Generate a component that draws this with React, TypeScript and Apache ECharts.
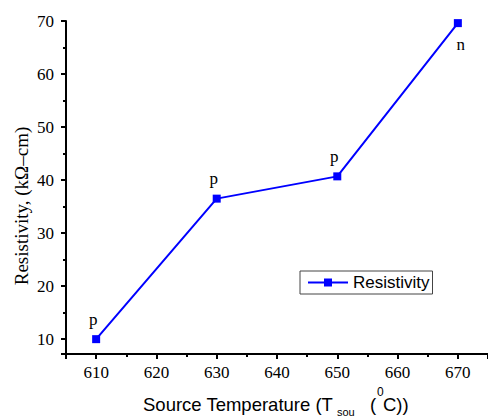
import React, { useEffect, useRef } from "react";
import * as echarts from "echarts";

const temperatures = [610, 630, 650, 670];
const resistivity = [10, 36.5, 40.7, 69.6];
const conductionType = ["p", "p", "p", "n"];
const xRange = [605, 675];
const yRange = [7.2, 70];

const SERIF = "serif";
const SANS = "Arial";

function buildOption() {
  const data = temperatures.map((t, i) => ({
    value: [t, resistivity[i]],
    label: {
      show: true,
      formatter: conductionType[i],
      position: "inside",
      offset: conductionType[i] === "n" ? [3, 21] : [-3, -20],
      fontFamily: SERIF,
      fontSize: 17,
      color: "#000",
    },
  }));
  const stroke = { color: "#000", width: 2 };
  return {
    animation: false,
    grid: { left: 66, right: 0, top: 21, bottom: 64 },
    xAxis: {
      type: "value",
      min: xRange[0],
      max: xRange[1],
      splitNumber: 7,
      axisLine: { show: true, onZero: false, lineStyle: stroke },
      axisTick: { show: true, length: 5, lineStyle: stroke },
      minorTick: { show: true, splitNumber: 2, length: 3, lineStyle: stroke },
      axisLabel: { showMinLabel: false, showMaxLabel: false, margin: 10, fontFamily: SERIF, fontSize: 17, color: "#000" },
      splitLine: { show: false },
      minorSplitLine: { show: false },
    },
    yAxis: {
      type: "value",
      min: yRange[0],
      max: yRange[1],
      axisLine: { show: true, onZero: false, lineStyle: stroke },
      axisTick: { show: true, length: 5, lineStyle: stroke },
      minorTick: { show: true, splitNumber: 2, length: 3, lineStyle: stroke },
      axisLabel: { showMinLabel: false, margin: 12, fontFamily: SERIF, fontSize: 17, color: "#000" },
      splitLine: { show: false },
      minorSplitLine: { show: false },
    },
    legend: {
      left: 300,
      top: 271,
      padding: [3, 3, 3, 7],
      itemWidth: 40,
      itemHeight: 10,
      borderColor: "#444",
      borderWidth: 1,
      borderRadius: 0,
      textStyle: { fontFamily: SANS, fontSize: 17, color: "#000" },
      data: ["Resistivity"],
    },
    series: [
      {
        name: "Resistivity",
        type: "line",
        data,
        symbol: "rect",
        symbolSize: 8,
        clip: false,
        lineStyle: { color: "#0000ff", width: 2 },
        itemStyle: { color: "#0000ff" },
        markLine: {
          silent: true,
          symbol: "none",
          label: { show: false },
          emphasis: { disabled: true },
          lineStyle: { color: "#000", width: 2, type: "solid" },
          data: [{ xAxis: xRange[0] }, { yAxis: yRange[0] }],
        },
      },
    ],
    graphic: [
      {
        type: "text",
        x: 21,
        y: 206,
        rotation: Math.PI / 2,
        style: { text: "Resistivity, (kΩ–cm)", font: `19px ${SERIF}`, fill: "#000", align: "center", verticalAlign: "middle" },
      },
      {
        type: "text",
        x: 143,
        y: 404,
        style: { text: "Source Temperature (T", font: `18.5px ${SANS}`, fill: "#000", align: "left", verticalAlign: "middle" },
      },
      {
        type: "text",
        x: 337,
        y: 412,
        style: { text: "sou", font: `11px ${SANS}`, fill: "#000", align: "left", verticalAlign: "middle" },
      },
      {
        type: "text",
        x: 370,
        y: 404,
        style: { text: "(", font: `18.5px ${SANS}`, fill: "#000", align: "left", verticalAlign: "middle" },
      },
      {
        type: "text",
        x: 377,
        y: 392,
        style: { text: "0", font: `12px ${SANS}`, fill: "#000", align: "left", verticalAlign: "middle" },
      },
      {
        type: "text",
        x: 383,
        y: 404,
        style: { text: "C))", font: `18.5px ${SANS}`, fill: "#000", align: "left", verticalAlign: "middle" },
      },
    ],
  };
}

export default function App() {
  const ref = useRef<HTMLDivElement>(null);
  useEffect(() => {
    if (!ref.current) return;
    const chart = echarts.init(ref.current, null, { renderer: "svg" });
    chart.setOption(buildOption() as any);
    return () => chart.dispose();
  }, []);
  return (
    <div style={{ width: 488, height: 418, position: "absolute", left: 0, top: 0 }}>
      <div ref={ref} style={{ width: 488, height: 418 }} />
    </div>
  );
}
